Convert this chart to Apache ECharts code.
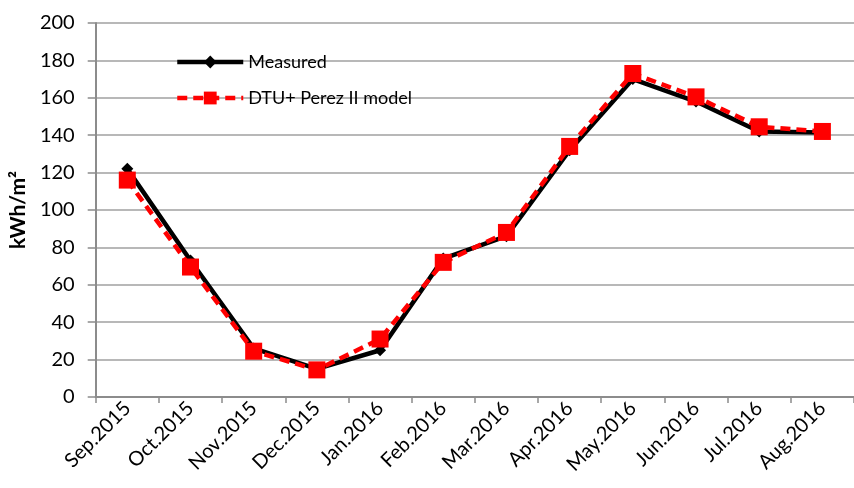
<!DOCTYPE html>
<html><head><meta charset="utf-8">
<script src="https://cdn.jsdelivr.net/npm/echarts@6/dist/echarts.min.js"></script>
<style>html,body{margin:0;padding:0;background:#fff}#c{width:854px;height:488px}</style>
</head><body><div id="c"></div>
<script>
const categories = ['Sep.2015','Oct.2015','Nov.2015','Dec.2015','Jan.2016','Feb.2016','Mar.2016','Apr.2016','May.2016','Jun.2016','Jul.2016','Aug.2016'];
const measured = [122, 73, 26, 15, 25, 74, 86, 132, 170, 158, 142, 141.5];
const model = [116, 69.5, 24.5, 14.5, 31, 72, 88, 134, 173, 160.5, 144.5, 142];
const yTicks = {min: 0, max: 200, interval: 20};
const font = 'Lato, "Open Sans", sans-serif';
const chart = echarts.init(document.getElementById('c'));
chart.setOption({
  animation: false,
  grid: {left: 94, top: 23, width: 767, height: 374},
  legend: {
    orient: 'vertical', left: 170, top: 48, itemGap: 18, itemWidth: 66, itemHeight: 16,
    textStyle: {fontFamily: font, fontSize: 18, color: '#000'},
    lineStyle: {width: 4.5},
    data: ['Measured', 'DTU+ Perez II model']
  },
  xAxis: {
    type: 'category', data: categories, boundaryGap: true,
    axisLine: {lineStyle: {color: '#8c8c8c', width: 2}},
    axisTick: {show: true, length: 6, interval: 0, lineStyle: {color: '#8c8c8c', width: 1.5}},
    axisLabel: {rotate: 45, interval: 0, fontFamily: font, fontSize: 20, color: '#000', margin: 8}
  },
  yAxis: {
    type: 'value', min: yTicks.min, max: yTicks.max, interval: yTicks.interval,
    name: 'kWh/m²', nameLocation: 'middle', nameGap: 66, nameRotate: 90,
    nameTextStyle: {fontFamily: font, fontSize: 21, fontWeight: 'bold', color: '#000'},
    axisLine: {show: true, lineStyle: {color: '#8c8c8c', width: 2}},
    axisTick: {show: true, length: 8, lineStyle: {color: '#8c8c8c', width: 1.5}},
    axisLabel: {fontFamily: font, fontSize: 20, color: '#000', margin: 21},
    splitLine: {lineStyle: {color: '#a0a0a0', width: 1.5}}
  },
  series: [
    {name: 'Measured', type: 'line', data: measured, symbol: 'diamond', symbolSize: 12,
     lineStyle: {color: '#000', width: 4.5}, itemStyle: {color: '#000'}, z: 2},
    {name: 'DTU+ Perez II model', type: 'line', data: model, symbol: 'rect', symbolSize: 17,
     lineStyle: {color: '#ff0000', width: 4.5, type: [10, 6]}, itemStyle: {color: '#ff0000'}, z: 3}
  ]
});
</script></body></html>
